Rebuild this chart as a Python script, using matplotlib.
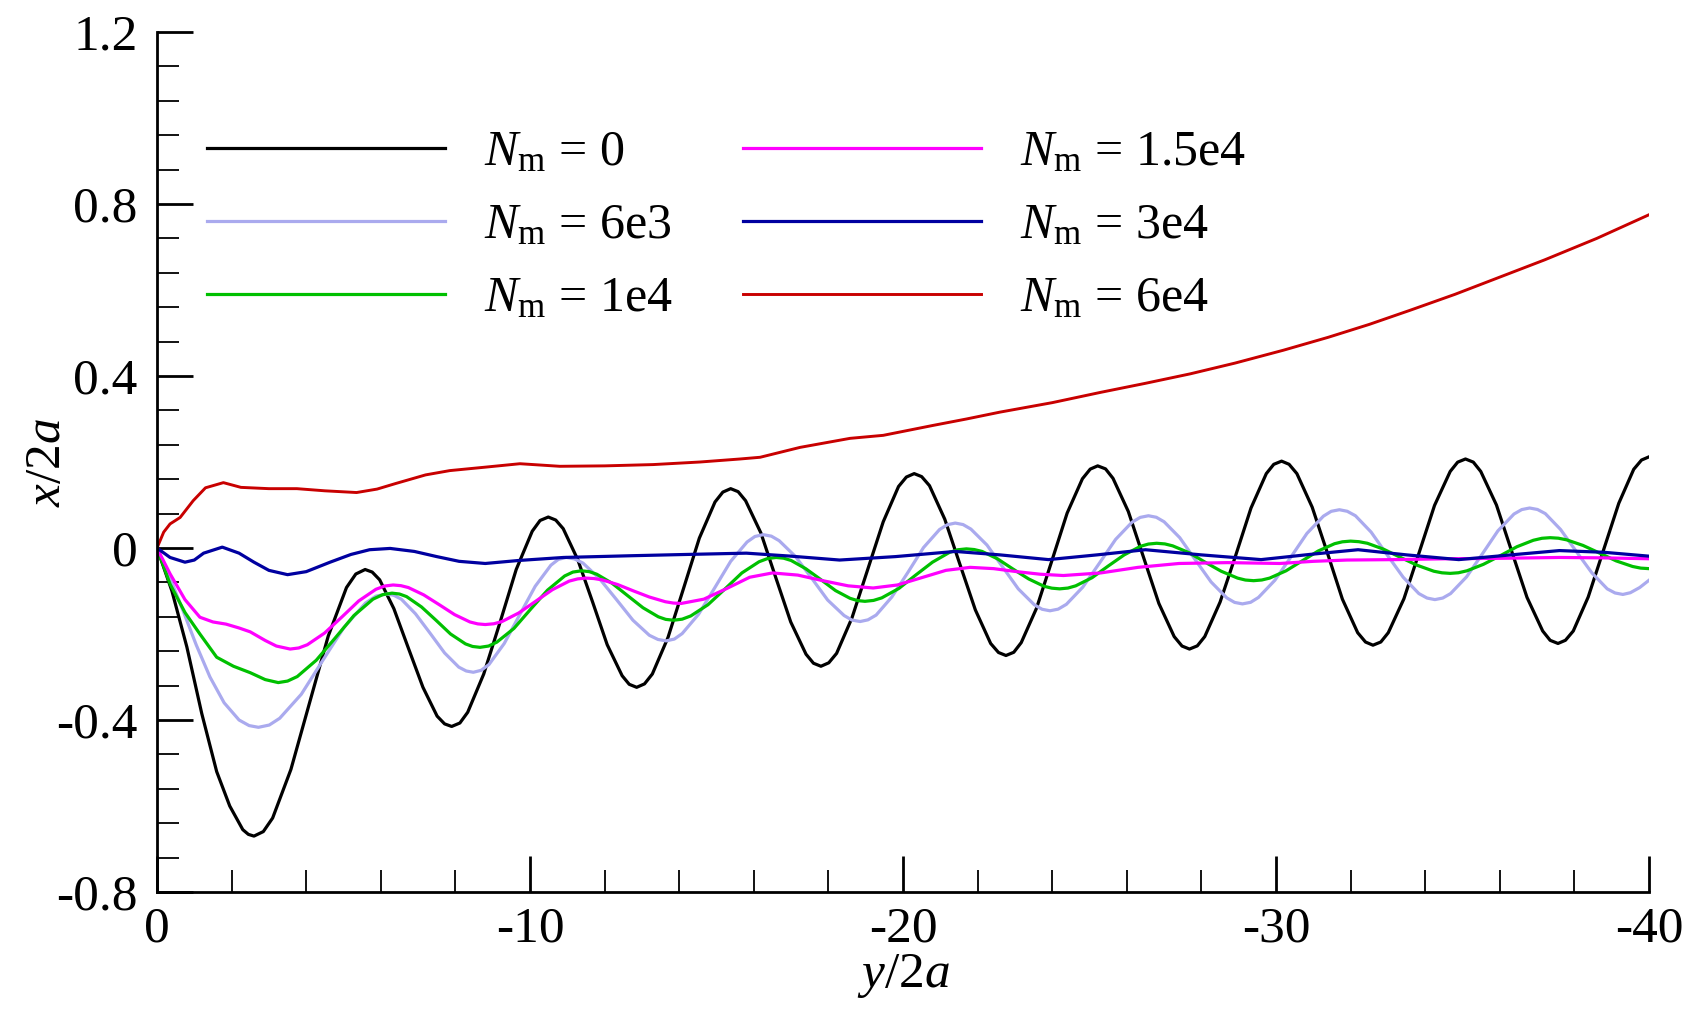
import numpy as np
import matplotlib
matplotlib.use("Agg")
import matplotlib.pyplot as plt
from matplotlib.ticker import MultipleLocator, FuncFormatter

plt.rcParams['font.family'] = ['Liberation Serif', 'DejaVu Serif']
plt.rcParams['mathtext.fontset'] = 'custom'
plt.rcParams['mathtext.rm'] = 'Liberation Serif'
plt.rcParams['mathtext.it'] = 'Liberation Serif:italic'
plt.rcParams['axes.unicode_minus'] = False

# ---- data: y/2a (as positive numbers, axis runs 0 -> -40) and x/2a ----
labels = [r'$N_{\mathrm{m}}$ = 0', r'$N_{\mathrm{m}}$ = 6e3', r'$N_{\mathrm{m}}$ = 1e4',
          r'$N_{\mathrm{m}}$ = 1.5e4', r'$N_{\mathrm{m}}$ = 3e4', r'$N_{\mathrm{m}}$ = 6e4']
colors = ['#000000', '#aaaaee', '#00c000', '#ff00ff', '#0000a0', '#c80000']

# N_m = 0
s0 = [0, 0.4, 0.8, 1.2, 1.6, 1.95, 2.3, 2.45,
      2.6, 2.85, 3.10, 3.59, 4.09, 4.59, 5.08, 5.33,
      5.58, 5.77, 5.97, 6.35, 6.74, 7.13, 7.51, 7.71,
      7.9, 8.12, 8.33, 8.76, 9.2, 9.63, 10.06, 10.27,
      10.49, 10.69, 10.89, 11.28, 11.68, 12.07, 12.47, 12.66,
      12.86, 13.07, 13.28, 13.7, 14.12, 14.54, 14.96, 15.17,
      15.38, 15.58, 15.78, 16.19, 16.59, 16.99, 17.4, 17.6,
      17.8, 18.01, 18.22, 18.63, 19.05, 19.47, 19.88, 20.09,
      20.3, 20.5, 20.71, 21.12, 21.53, 21.94, 22.35, 22.56,
      22.76, 22.97, 23.17, 23.58, 23.99, 24.4, 24.81, 25.02,
      25.22, 25.43, 25.63, 26.04, 26.45, 26.86, 27.27, 27.48,
      27.68, 27.89, 28.09, 28.5, 28.92, 29.33, 29.74, 29.94,
      30.15, 30.35, 30.56, 30.97, 31.38, 31.78, 32.19, 32.4,
      32.6, 32.81, 33.01, 33.43, 33.84, 34.25, 34.67, 34.87,
      35.08, 35.29, 35.49, 35.91, 36.32, 36.73, 37.15, 37.35,
      37.56, 37.76, 37.97, 38.37, 38.78, 39.19, 39.59, 39.8, 40.0]
x0 = [0, -0.10, -0.23, -0.385, -0.52, -0.60, -0.655, -0.666,
      -0.67, -0.6595, -0.628, -0.515, -0.36, -0.205, -0.092, -0.0605,
      -0.05, -0.056, -0.074, -0.141, -0.233, -0.324, -0.391, -0.409,
      -0.415, -0.407, -0.382, -0.293, -0.172, -0.05, 0.039, 0.064,
      0.072, 0.065, 0.045, -0.027, -0.126, -0.225, -0.297, -0.317,
      -0.324, -0.316, -0.293, -0.208, -0.093, 0.023, 0.107, 0.130,
      0.138, 0.131, 0.110, 0.035, -0.069, -0.172, -0.247, -0.268,
      -0.275, -0.267, -0.245, -0.163, -0.051, 0.061, 0.143, 0.165,
      0.173, 0.166, 0.145, 0.067, -0.039, -0.144, -0.222, -0.243,
      -0.25, -0.2425, -0.220, -0.140, -0.030, 0.081, 0.161, 0.1835,
      0.191, 0.184, 0.162, 0.085, -0.022, -0.129, -0.206, -0.228,
      -0.235, -0.2276, -0.206, -0.126, -0.017, 0.093, 0.173, 0.1946,
      0.202, 0.1947, 0.173, 0.095, -0.012, -0.119, -0.197, -0.2187,
      -0.226, -0.2186, -0.197, -0.118, -0.010, 0.099, 0.178, 0.1996,
      0.207, 0.1997, 0.178, 0.100, -0.008, -0.115, -0.193, -0.2147,
      -0.222, -0.2146, -0.193, -0.114, -0.005, 0.104, 0.183, 0.2046, 0.212]

# N_m = 6e3
s1 = [0, 0.35, 0.7, 1.05, 1.42, 1.8, 2.2, 2.47,
      2.72, 3.01, 3.29, 3.87, 4.44, 5.01, 5.59, 5.87,
      6.16, 6.35, 6.55, 6.93, 7.32, 7.71, 8.09, 8.29,
      8.48, 8.69, 8.9, 9.31, 9.72, 10.14, 10.56, 10.76,
      10.97, 11.19, 11.42, 11.86, 12.31, 12.76, 13.2, 13.43,
      13.65, 13.87, 14.08, 14.52, 14.95, 15.38, 15.82, 16.03,
      16.25, 16.47, 16.68, 17.12, 17.55, 17.98, 18.42, 18.63,
      18.85, 19.06, 19.28, 19.7, 20.13, 20.55, 20.98, 21.19,
      21.4, 21.61, 21.82, 22.25, 22.67, 23.09, 23.52, 23.73,
      23.94, 24.16, 24.38, 24.82, 25.26, 25.7, 26.14, 26.36,
      26.58, 26.79, 27.0, 27.42, 27.84, 28.26, 28.68, 28.89,
      29.1, 29.32, 29.53, 29.97, 30.4, 30.83, 31.27, 31.48,
      31.7, 31.91, 32.13, 32.55, 32.98, 33.41, 33.83, 34.05,
      34.26, 34.47, 34.68, 35.11, 35.53, 35.95, 36.38, 36.59,
      36.8, 37.01, 37.22, 37.63, 38.05, 38.47, 38.88, 39.09,
      39.3, 39.5, 39.75, 40.0]
x1 = [0, -0.07, -0.146, -0.225, -0.30, -0.36, -0.40, -0.413,
      -0.417, -0.4117, -0.396, -0.34, -0.262, -0.185, -0.128, -0.112,
      -0.107, -0.110, -0.119, -0.153, -0.198, -0.244, -0.277, -0.286,
      -0.289, -0.2845, -0.271, -0.222, -0.156, -0.089, -0.04, -0.0265,
      -0.022, -0.0253, -0.035, -0.071, -0.119, -0.168, -0.203, -0.2127,
      -0.216, -0.2118, -0.199, -0.154, -0.093, -0.031, 0.014, 0.0268,
      0.031, 0.0276, 0.017, -0.02, -0.07, -0.121, -0.157, -0.1676,
      -0.171, -0.1671, -0.156, -0.114, -0.057, 0.001, 0.043, 0.0541,
      0.058, 0.0545, 0.044, 0.007, -0.044, -0.095, -0.132, -0.1425,
      -0.146, -0.1422, -0.131, -0.091, -0.036, 0.02, 0.06, 0.0712,
      0.075, 0.0715, 0.061, 0.024, -0.028, -0.079, -0.116, -0.1265,
      -0.13, -0.1263, -0.115, -0.075, -0.021, 0.034, 0.074, 0.0853,
      0.089, 0.0854, 0.075, 0.037, -0.016, -0.068, -0.106, -0.1164,
      -0.12, -0.1164, -0.106, -0.067, -0.014, 0.04, 0.079, 0.0894,
      0.093, 0.0896, 0.08, 0.043, -0.008, -0.058, -0.095, -0.1046,
      -0.108, -0.104, -0.092, -0.075]

# N_m = 1e4
s2 = [0, 0.35, 0.75, 1.15, 1.6, 2.05, 2.5, 2.9,
      3.25, 3.5, 3.76, 4.27, 4.78, 5.28, 5.79, 6.05,
      6.3, 6.5, 6.69, 7.09, 7.48, 7.87, 8.27, 8.46,
      8.66, 8.89, 9.11, 9.57, 10.02, 10.47, 10.93, 11.15,
      11.38, 11.59, 11.79, 12.2, 12.62, 13.03, 13.44, 13.64,
      13.85, 14.08, 14.31, 14.77, 15.23, 15.68, 16.14, 16.37,
      16.6, 16.8, 17.0, 17.39, 17.79, 18.19, 18.58, 18.78,
      18.98, 19.21, 19.43, 19.89, 20.34, 20.79, 21.25, 21.47,
      21.7, 21.91, 22.12, 22.53, 22.95, 23.37, 23.78, 23.99,
      24.2, 24.42, 24.63, 25.07, 25.5, 25.93, 26.37, 26.58,
      26.8, 27.02, 27.23, 27.67, 28.1, 28.53, 28.97, 29.18,
      29.4, 29.62, 29.83, 30.27, 30.7, 31.13, 31.57, 31.78,
      32.0, 32.22, 32.45, 32.89, 33.34, 33.78, 34.23, 34.45,
      34.67, 34.89, 35.12, 35.56, 36.01, 36.46, 36.9, 37.13,
      37.35, 37.57, 37.79, 38.23, 38.68, 39.12, 39.56, 39.78, 40.0]
x2 = [0, -0.084, -0.15, -0.20, -0.254, -0.275, -0.29, -0.306,
      -0.313, -0.3095, -0.299, -0.261, -0.209, -0.157, -0.119, -0.1085,
      -0.105, -0.107, -0.113, -0.137, -0.168, -0.2, -0.223, -0.229,
      -0.231, -0.228, -0.219, -0.187, -0.142, -0.098, -0.065, -0.056,
      -0.053, -0.055, -0.061, -0.082, -0.111, -0.139, -0.16, -0.166,
      -0.168, -0.1655, -0.158, -0.132, -0.095, -0.058, -0.032, -0.0245,
      -0.022, -0.0237, -0.029, -0.048, -0.073, -0.099, -0.117, -0.1223,
      -0.124, -0.1219, -0.116, -0.094, -0.063, -0.033, -0.01, -0.0041,
      -0.002, -0.0036, -0.008, -0.025, -0.049, -0.072, -0.089, -0.0934,
      -0.095, -0.0932, -0.088, -0.069, -0.042, -0.016, 0.004, 0.0092,
      0.011, 0.0095, 0.005, -0.011, -0.033, -0.054, -0.07, -0.0745,
      -0.076, -0.0744, -0.07, -0.053, -0.03, -0.007, 0.01, 0.0144,
      0.016, 0.0147, 0.011, -0.003, -0.022, -0.04, -0.054, -0.0577,
      -0.059, -0.0576, -0.053, -0.038, -0.018, 0.003, 0.018, 0.0226,
      0.024, 0.0228, 0.019, 0.006, -0.012, -0.03, -0.043, -0.0468, -0.048]

# N_m = 1.5e4
s3 = [0, 0.35, 0.75, 1.15, 1.5, 1.85, 2.2, 2.5, 2.9, 3.2,
      3.57, 3.8, 4.03, 4.49, 4.95, 5.41, 5.87, 6.1,
      6.33, 6.54, 6.74, 7.15, 7.57, 7.98, 8.39, 8.6,
      8.8, 9.03, 9.25, 9.7, 10.15, 10.6, 11.05, 11.28,
      11.5, 11.71, 11.93, 12.35, 12.78, 13.2, 13.63, 13.84,
      14.05, 14.66, 15.28, 15.89, 16.5,
      17.18, 17.85, 18.53, 19.2,
      19.85, 20.5, 21.15, 21.8,
      22.43, 23.05, 23.68, 24.3,
      25.3, 26.3, 27.4, 28.7, 30.1, 31.0, 31.9, 33.2, 34.6, 36.0, 37.6, 38.8, 40.0]
x3 = [0, -0.06, -0.12, -0.161, -0.172, -0.177, -0.186, -0.195, -0.215, -0.228,
      -0.235, -0.2325, -0.225, -0.198, -0.161, -0.123, -0.096, -0.0885,
      -0.086, -0.0876, -0.092, -0.109, -0.132, -0.155, -0.172, -0.1765,
      -0.178, -0.1762, -0.171, -0.151, -0.124, -0.097, -0.077, -0.0718,
      -0.07, -0.071, -0.074, -0.085, -0.1, -0.114, -0.125, -0.128,
      -0.129, -0.119, -0.094, -0.068, -0.058,
      -0.063, -0.076, -0.088, -0.093,
      -0.086, -0.069, -0.052, -0.045,
      -0.048, -0.055, -0.061, -0.064,
      -0.058, -0.045, -0.036, -0.034, -0.036, -0.031, -0.028, -0.027, -0.025, -0.024, -0.022, -0.023, -0.025]

# N_m = 3e4
s4 = [0, 0.35, 0.75, 1.0, 1.25, 1.75, 2.2, 2.6, 3.0, 3.5, 4.0, 4.64, 5.2, 5.7, 6.25,
      6.9, 7.5, 8.1, 8.8, 9.7, 10.9, 12.7, 14.2, 15.8, 17.0, 18.3, 19.8, 21.4,
      22.6, 23.9, 25.2, 26.5, 28.0, 29.6, 30.9, 32.2, 33.5, 34.9, 36.3, 37.6, 38.8, 40.0]
x4 = [0, -0.022, -0.033, -0.028, -0.012, 0.002, -0.012, -0.033, -0.052, -0.062, -0.055, -0.033, -0.015, -0.004, -0.001,
      -0.008, -0.02, -0.031, -0.036, -0.029, -0.022, -0.018, -0.015, -0.012, -0.019, -0.028, -0.02, -0.008,
      -0.016, -0.027, -0.016, -0.004, -0.016, -0.027, -0.015, -0.004, -0.016, -0.027, -0.016, -0.006, -0.01, -0.019]

# N_m = 6e4
s5 = [0, 0.18, 0.35, 0.62, 0.97, 1.3, 1.78, 2.25, 3.0, 3.75, 4.5, 5.35, 5.9, 6.4, 7.2, 7.85,
      8.8, 9.73, 10.8, 12.0, 13.3, 14.56, 15.63, 16.17, 17.24, 18.58, 19.47, 20.8, 21.7, 22.6,
      24.0, 25.3, 26.5, 27.7, 28.9, 30.2, 31.4, 32.5, 33.6, 34.8, 36.0, 37.2, 38.6, 40.0]
x5 = [0, 0.037, 0.056, 0.071, 0.11, 0.14, 0.152, 0.141, 0.138, 0.138, 0.133, 0.129, 0.137, 0.15, 0.17, 0.18,
      0.188, 0.196, 0.19, 0.191, 0.194, 0.2, 0.207, 0.211, 0.234, 0.255, 0.262, 0.285, 0.3, 0.316,
      0.338, 0.362, 0.383, 0.405, 0.43, 0.46, 0.49, 0.52, 0.553, 0.59, 0.63, 0.67, 0.72, 0.775]

ys = [s0, s1, s2, s3, s4, s5]
xs = [x0, x1, x2, x3, x4, x5]
widths = [2.3, 2.3, 2.3, 2.3, 2.3, 2.1]

fig = plt.figure(figsize=(16.89, 10.19), dpi=100)
ax = fig.add_axes([157/1689, 1 - 892/1019, 1492/1689, 860/1019])

for s, x, c, lab, lw in zip(ys, xs, colors, labels, widths):
    ax.plot(-np.array(s), x, color=c, lw=lw, label=lab, solid_joinstyle='round')

ax.set_xlim(0, -40)
ax.set_ylim(-0.8, 1.2)
ax.xaxis.set_major_locator(MultipleLocator(10))
ax.xaxis.set_minor_locator(MultipleLocator(2))
ax.yaxis.set_major_locator(MultipleLocator(0.4))
ax.yaxis.set_minor_locator(MultipleLocator(0.08))
ax.yaxis.set_major_formatter(FuncFormatter(lambda v, p: f'{v:.1f}' if abs(v) > 1e-9 else '0'))
ax.xaxis.set_major_formatter(FuncFormatter(lambda v, p: f'{v:.0f}' if abs(v) > 1e-9 else '0'))

for side in ['top', 'right']:
    ax.spines[side].set_visible(False)
for side in ['left', 'bottom']:
    ax.spines[side].set_linewidth(2.0)

ax.tick_params(which='major', direction='in', length=26, width=2.0, labelsize=37)
ax.tick_params(which='minor', direction='in', length=15.5, width=1.3)
ax.tick_params(axis='y', which='major', pad=14)
ax.tick_params(axis='x', which='major', pad=10)

ax.set_xlabel(r'$y$/2$a$', fontsize=37, labelpad=0)
ax.set_ylabel(r'$x$/2$a$', fontsize=37, labelpad=-11)

ax.legend(loc='upper left', bbox_to_anchor=(0.0335, 0.886), ncol=2, frameon=False,
          fontsize=36, handlelength=4.76, handletextpad=0.78, columnspacing=1.4,
          labelspacing=0.53, borderpad=0, borderaxespad=0)

fig.savefig('out.png', dpi=100)
